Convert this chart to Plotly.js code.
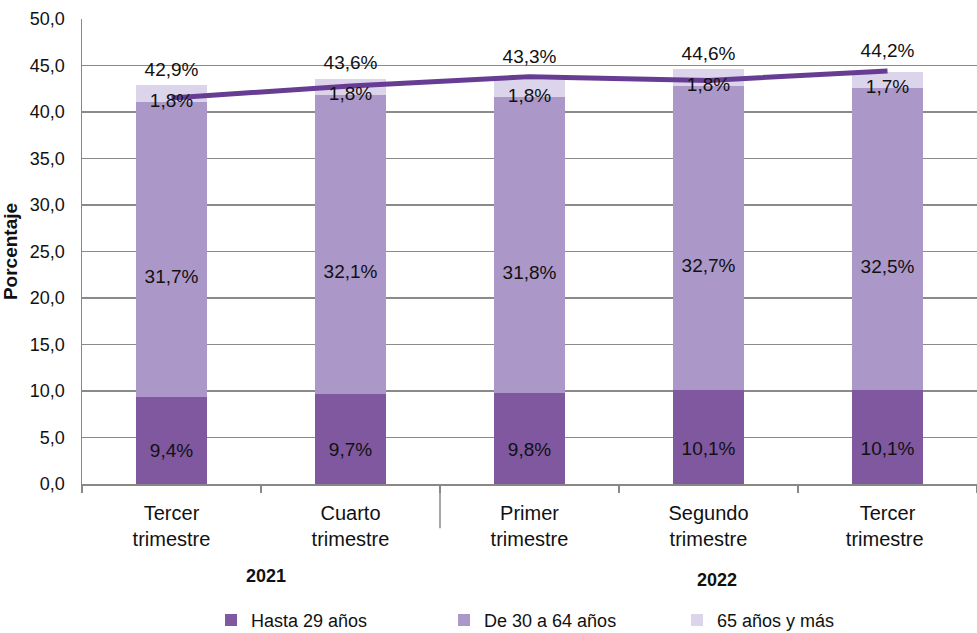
<!DOCTYPE html>
<html>
<head>
<meta charset="utf-8">
<script src="https://cdn.plot.ly/plotly-3.0.1.min.js"></script>
<style>html,body{margin:0;padding:0;background:#fff;}#chart{width:977px;height:633px;}</style>
</head>
<body>
<div id="chart"></div>
<script>
const quarters = ["Tercer<br>trimestre", "Cuarto<br>trimestre", "Primer<br>trimestre", "Segundo<br>trimestre", "Tercer<br>trimestre "];
const years = ["2021", "2022"];
const hasta29 = [9.4, 9.7, 9.8, 10.1, 10.1];
const de30a64 = [31.7, 32.1, 31.8, 32.7, 32.5];
const mas65 = [1.8, 1.8, 1.8, 1.8, 1.7];
const totalLabels = ["42,9%", "43,6%", "43,3%", "44,6%", "44,2%"];
const lineValues = [41.5, 42.8, 43.8, 43.4, 44.4];
const yTicks = [0, 5, 10, 15, 20, 25, 30, 35, 40, 45, 50];

const FONT = "Liberation Sans, Arial, sans-serif";
const fmt = v => v.toFixed(1).replace(".", ",") + "%";
const c1 = "#7f58a0", c2 = "#ab97c8", c3 = "#dcd4ea", cLine = "#673d93";

const base2 = hasta29.slice();
const base3 = hasta29.map((v, i) => v + de30a64[i]);
const tops = base3.map((v, i) => v + mas65[i]);
const labelFont = {family: FONT, size: 19, color: "#111"};

const traces = [
  {type: "bar", name: "Hasta 29 años", x: quarters, y: hasta29, marker: {color: c1}, hoverinfo: "skip"},
  {type: "bar", name: "De 30 a 64 años", x: quarters, y: de30a64, marker: {color: c2}, hoverinfo: "skip"},
  {type: "bar", name: "65 años y más", x: quarters, y: mas65, marker: {color: c3}, hoverinfo: "skip"},
  {type: "scatter", mode: "lines", x: quarters, y: lineValues, line: {color: cLine, width: 5}, showlegend: false, hoverinfo: "skip"},
  {type: "scatter", mode: "text", x: quarters, y: hasta29.map(v => v * 0.36), text: hasta29.map(fmt), textfont: labelFont, showlegend: false, hoverinfo: "skip"},
  {type: "scatter", mode: "text", x: quarters, y: de30a64.map((v, i) => base2[i] + v / 2 - 3.1), text: de30a64.map(fmt), textfont: labelFont, showlegend: false, hoverinfo: "skip"},
  {type: "scatter", mode: "text", x: quarters, y: mas65.map((v, i) => base3[i] + v / 2 - 0.9), text: mas65.map(fmt), textfont: labelFont, showlegend: false, hoverinfo: "skip"},
  {type: "scatter", mode: "text", x: quarters, y: tops.map((v, i) => Math.max(v, lineValues[i] + 0.5) + 1.5), text: totalLabels, textfont: labelFont, showlegend: false, hoverinfo: "skip"}
];

const layout = {
  width: 977, height: 633,
  margin: {l: 82, r: 0, t: 19, b: 149},
  paper_bgcolor: "#fff", plot_bgcolor: "#fff",
  barmode: "stack", bargap: 0.6,
  separators: ",.",
  font: {family: FONT, size: 18, color: "#111"},
  xaxis: {
    type: "category", tickson: "boundaries", ticks: "outside", ticklen: 7, tickcolor: "#888", tickwidth: 1.5,
    showline: true, linecolor: "#888", linewidth: 1.5, showgrid: false,
    tickfont: {family: FONT, size: 20, color: "#111"}, ticklabelstandoff: 10, fixedrange: true
  },
  yaxis: {
    range: [0, 50], tickvals: yTicks, tickformat: ".1f", showgrid: true, gridcolor: "#8a8a8a", gridwidth: 1.3,
    showline: true, linecolor: "#888", linewidth: 1.5, zeroline: false, ticks: "", ticklabelstandoff: 12,
    tickfont: {family: FONT, size: 18, color: "#111"},
    title: {text: "<b>Porcentaje</b>", font: {family: FONT, size: 19, color: "#111"}, standoff: 12}, fixedrange: true
  },
  showlegend: true,
  legend: {
    orientation: "h", xref: "container", yref: "container", x: 0.216, xanchor: "left", y: 0.02, yanchor: "middle",
    entrywidth: 188, entrywidthmode: "pixels", font: {family: FONT, size: 18, color: "#111"}, traceorder: "normal"
  },
  shapes: [
    {type: "line", xref: "x", yref: "paper", x0: 1.5, x1: 1.5, y0: 0, y1: -0.095, line: {color: "#888", width: 1.5}}
  ],
  annotations: [
    {xref: "x", yref: "paper", x: 0.53, y: -0.224, text: "<b>" + years[0] + "</b>", showarrow: false, font: {family: FONT, size: 18, color: "#111"}},
    {xref: "x", yref: "paper", x: 3.05, y: -0.233, text: "<b>" + years[1] + "</b>", showarrow: false, font: {family: FONT, size: 18, color: "#111"}}
  ]
};

Plotly.newPlot("chart", traces, layout, {staticPlot: true, displayModeBar: false});
</script>
</body>
</html>
